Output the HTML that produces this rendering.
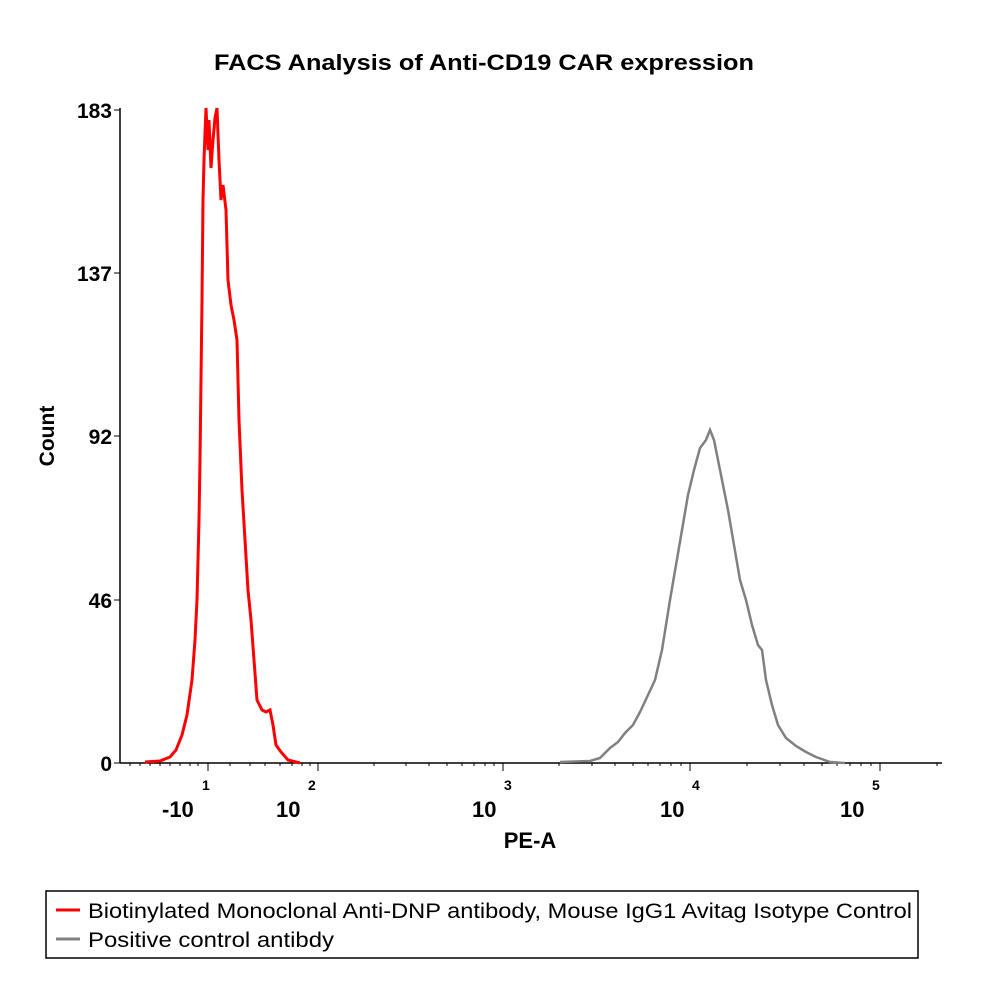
<!DOCTYPE html>
<html><head><style>body{margin:0;background:#fff}</style></head><body>
<svg width="1000" height="1000" viewBox="0 0 1000 1000" xmlns="http://www.w3.org/2000/svg" font-family="Liberation Sans, sans-serif">
<rect width="1000" height="1000" fill="#fff"/>
<text x="484" y="70" font-size="22" font-weight="bold" text-anchor="middle" textLength="540" lengthAdjust="spacingAndGlyphs">FACS Analysis of Anti-CD19 CAR expression</text>
<line x1="120" y1="108" x2="120" y2="763" stroke="#000" stroke-width="1.5"/>
<line x1="120" y1="763" x2="942" y2="763" stroke="#000" stroke-width="1.5"/>
<g stroke="#000" stroke-width="1">
<line x1="114" y1="110" x2="120" y2="110"/><line x1="114" y1="273" x2="120" y2="273"/><line x1="114" y1="436" x2="120" y2="436"/><line x1="114" y1="600" x2="120" y2="600"/><line x1="114" y1="763" x2="120" y2="763"/>
<line x1="208" y1="763" x2="208" y2="771"/><line x1="318" y1="763" x2="318" y2="771"/><line x1="503" y1="763" x2="503" y2="771"/><line x1="690" y1="763" x2="690" y2="771"/><line x1="880" y1="763" x2="880" y2="771"/>
<path d="M130 763v3M140 763v3M150 763v3M160 763v3M170 763v3M180 763v3M190 763v3M198 763v3M230 763v3M250 763v3M265 763v3M280 763v3M292 763v3M302 763v3M310 763v3M374 763v3M406 763v3M429 763v3M447 763v3M462 763v3M474 763v3M485 763v3M494 763v3M559 763v3M592 763v3M615 763v3M633 763v3M648 763v3M660 763v3M671 763v3M681 763v3M747 763v3M780 763v3M804 763v3M822 763v3M837 763v3M850 763v3M861 763v3M871 763v3M937 763v3"/>
</g>
<g font-size="21" font-weight="bold" text-anchor="end">
<text x="112" y="118">183</text><text x="112" y="281">137</text><text x="112" y="444">92</text><text x="112" y="608">46</text><text x="112" y="771">0</text>
</g>
<text transform="translate(54,436) rotate(-90)" font-size="21" font-weight="bold" text-anchor="middle">Count</text>
<g font-size="22" font-weight="bold">
<text x="162" y="817">-10</text><text x="202" y="790" font-size="14">1</text>
<text x="276" y="817">10</text><text x="308" y="790" font-size="14">2</text>
<text x="472" y="817">10</text><text x="504" y="790" font-size="14">3</text>
<text x="660" y="817">10</text><text x="692" y="790" font-size="14">4</text>
<text x="840" y="817">10</text><text x="872" y="790" font-size="14">5</text>
</g>
<text x="530" y="848" font-size="22" font-weight="bold" text-anchor="middle">PE-A</text>
<polyline fill="none" stroke="#808080" stroke-width="2.5" points="560,762 590,761 600,758 610,748 618,742 625,733 633,725 640,712 648,695 655,680 662,650 670,600 676,565 682,530 688,495 694,470 700,448 706,440 710,430 714,440 718,460 722,480 728,510 734,545 740,580 746,600 752,625 758,645 762,650 766,680 772,705 778,725 786,738 796,746 806,752 816,757 830,762 845,763"/>
<polyline fill="none" stroke="#ff0000" stroke-width="3" points="145,762 160,761 170,757 176,750 182,735 187,715 192,680 195,640 197,600 199,520 200,460 201,380 202,300 203,200 204,160 206,108 208,150 209,120 211,168 213,140 215,118 217,108 219,160 221,200 223,185 226,210 228,280 231,305 234,320 237,340 239,420 242,490 245,540 248,590 251,620 254,660 257,700 262,710 266,712 270,710 273,725 276,745 281,752 288,760 300,763"/>
<rect x="46" y="891" width="872" height="67" fill="none" stroke="#000" stroke-width="1.5"/>
<line x1="56" y1="910" x2="80" y2="910" stroke="#ff0000" stroke-width="3"/>
<line x1="56" y1="939" x2="80" y2="939" stroke="#808080" stroke-width="3"/>
<text x="88" y="918" font-size="21" textLength="824" lengthAdjust="spacingAndGlyphs">Biotinylated Monoclonal Anti-DNP antibody, Mouse IgG1 Avitag Isotype Control</text>
<text x="88" y="947" font-size="21" textLength="246" lengthAdjust="spacingAndGlyphs">Positive control antibdy</text>
</svg>
</body></html>
